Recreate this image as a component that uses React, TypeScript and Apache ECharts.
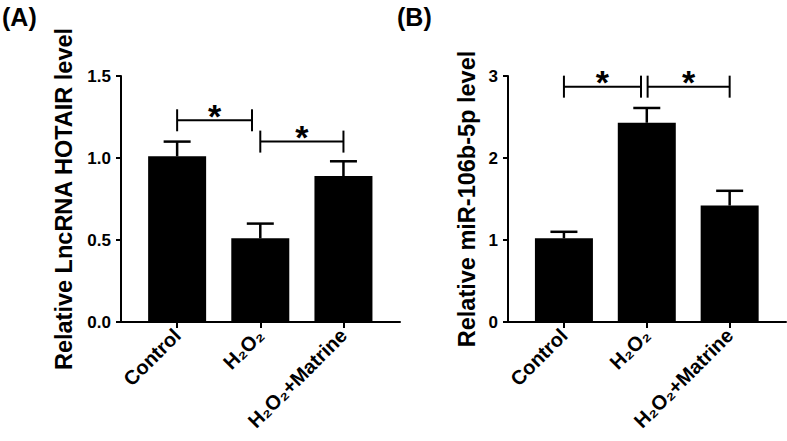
import React, { useEffect, useRef } from "react";
import * as echarts from "echarts";

const categories = ["Control", "H₂O₂", "H₂O₂+Matrine"];

const hotairMeans = [1.01, 0.51, 0.89];
const hotairErrors = [0.09, 0.09, 0.09];
const hotairBrackets = [
  [0, 0.9, 1.23],
  [1, 2, 1.1],
];

const mirMeans = [1.02, 2.43, 1.42];
const mirErrors = [0.08, 0.18, 0.18];
const mirBrackets = [
  [0, 0.93, 2.87],
  [1.01, 2, 2.87],
];

const leftTicks = [0, 0.5, 1.0, 1.5];
const rightTicks = [0, 1, 2, 3];

const FONT = "'Liberation Sans', Arial, sans-serif";

function App() {
  const ref = useRef<HTMLDivElement>(null);

  useEffect(() => {
    if (!ref.current) return;
    const chart = echarts.init(ref.current, null, { renderer: "svg" });

    const catIdx = categories.map((_, i) => i);

    const makeX = (gridIndex: number) => ({
      type: "value",
      gridIndex,
      min: -0.675,
      max: 2.68,
      splitLine: { show: false },
      axisLine: { show: true, onZero: false, lineStyle: { color: "#000", width: 2 } },
      axisTick: {
        show: true,
        customValues: catIdx,
        length: 6,
        lineStyle: { color: "#000", width: 2 },
      },
      axisLabel: {
        customValues: catIdx,
        rotate: 45,
        margin: 10,
        color: "#000",
        fontFamily: FONT,
        fontWeight: "bold",
        fontSize: 20,
        formatter: (v: number) => categories[Math.round(v)] ?? "",
      },
    });

    const makeY = (
      gridIndex: number,
      max: number,
      interval: number,
      name: string,
      nameGap: number,
      decimals: number
    ) => ({
      type: "value",
      gridIndex,
      min: 0,
      max,
      interval,
      name,
      nameLocation: "middle",
      nameGap,
      nameTextStyle: {
        color: "#000",
        fontFamily: FONT,
        fontWeight: "bold",
        fontSize: 23.5,
      },
      splitLine: { show: false },
      axisLine: { show: true, onZero: false, lineStyle: { color: "#000", width: 2 } },
      axisTick: { show: true, length: 5, lineStyle: { color: "#000", width: 2 } },
      axisLabel: {
        margin: 10,
        color: "#000",
        fontFamily: FONT,
        fontWeight: "bold",
        fontSize: 17,
        formatter: (v: number) => v.toFixed(decimals),
      },
    });

    const makeErrorRender = (means: number[], errs: number[]) => (params: any, api: any) => {
      const i = params.dataIndex;
      const v = means[i];
      const e = errs[i];
      const p0 = api.coord([i, v]);
      const p1 = api.coord([i, v + e]);
      const st = { stroke: "#000", lineWidth: 2.5 };
      return {
        type: "group",
        children: [
          { type: "line", shape: { x1: p0[0], y1: p0[1], x2: p1[0], y2: p1[1] }, style: st },
          { type: "line", shape: { x1: p1[0] - 13.5, y1: p1[1], x2: p1[0] + 13.5, y2: p1[1] }, style: st },
        ],
      };
    };

    const makeBracketRender = (brs: number[][]) => (params: any, api: any) => {
      const [x1, x2, y] = brs[params.dataIndex];
      const a = api.coord([x1, y]);
      const b = api.coord([x2, y]);
      const st = { stroke: "#000", lineWidth: 2 };
      return {
        type: "group",
        children: [
          { type: "line", shape: { x1: a[0], y1: a[1], x2: b[0], y2: b[1] }, style: st },
          { type: "line", shape: { x1: a[0], y1: a[1] - 11, x2: a[0], y2: a[1] + 11 }, style: st },
          { type: "line", shape: { x1: b[0], y1: b[1] - 11, x2: b[0], y2: b[1] + 11 }, style: st },
          {
            type: "text",
            x: (a[0] + b[0]) / 2,
            y: a[1] - 4.5,
            style: {
              text: "*",
              fill: "#000",
              fontSize: 34,
              fontWeight: "bold",
              fontFamily: FONT,
              align: "center",
              verticalAlign: "middle",
            },
          },
        ],
      };
    };

    const barSeries = (idx: number, means: number[]) => ({
      type: "bar",
      xAxisIndex: idx,
      yAxisIndex: idx,
      barWidth: 58,
      itemStyle: { color: "#000" },
      data: means.map((m, i) => [i, m]),
      z: 2,
    });

    const errSeries = (idx: number, means: number[], errs: number[]) => ({
      type: "custom",
      xAxisIndex: idx,
      yAxisIndex: idx,
      clip: false,
      renderItem: makeErrorRender(means, errs),
      encode: { x: 0, y: 1 },
      data: means.map((m, i) => [i, m + errs[i]]),
      z: 3,
    });

    const brSeries = (idx: number, brs: number[][]) => ({
      type: "custom",
      xAxisIndex: idx,
      yAxisIndex: idx,
      clip: false,
      renderItem: makeBracketRender(brs),
      encode: { x: 0, y: 1 },
      data: brs.map((b) => [(b[0] + b[1]) / 2, b[2]]),
      z: 3,
    });

    chart.setOption({
      animation: false,
      backgroundColor: "#fff",
      grid: [
        { left: 121, top: 76, width: 279, height: 246 },
        { left: 508, top: 76, width: 278, height: 246 },
      ],
      xAxis: [makeX(0), makeX(1)],
      yAxis: [
        makeY(0, leftTicks[leftTicks.length - 1], leftTicks[1] - leftTicks[0], "Relative LncRNA HOTAIR level", 45, 1),
        makeY(1, rightTicks[rightTicks.length - 1], rightTicks[1] - rightTicks[0], "Relative miR-106b-5p level", 29, 0),
      ],
      graphic: [
        {
          type: "text",
          left: 2,
          top: 4,
          style: { text: "(A)", fill: "#000", fontSize: 25, fontWeight: "bold", fontFamily: FONT },
        },
        {
          type: "text",
          left: 397,
          top: 4,
          style: { text: "(B)", fill: "#000", fontSize: 25, fontWeight: "bold", fontFamily: FONT },
        },
      ],
      series: [
        barSeries(0, hotairMeans),
        errSeries(0, hotairMeans, hotairErrors),
        brSeries(0, hotairBrackets),
        barSeries(1, mirMeans),
        errSeries(1, mirMeans, mirErrors),
        brSeries(1, mirBrackets),
      ],
    });

    return () => chart.dispose();
  }, []);

  return (
    <div
      ref={ref}
      style={{ position: "fixed", left: 0, top: 0, width: 787, height: 441, background: "#fff" }}
    />
  );
}

export default App;
